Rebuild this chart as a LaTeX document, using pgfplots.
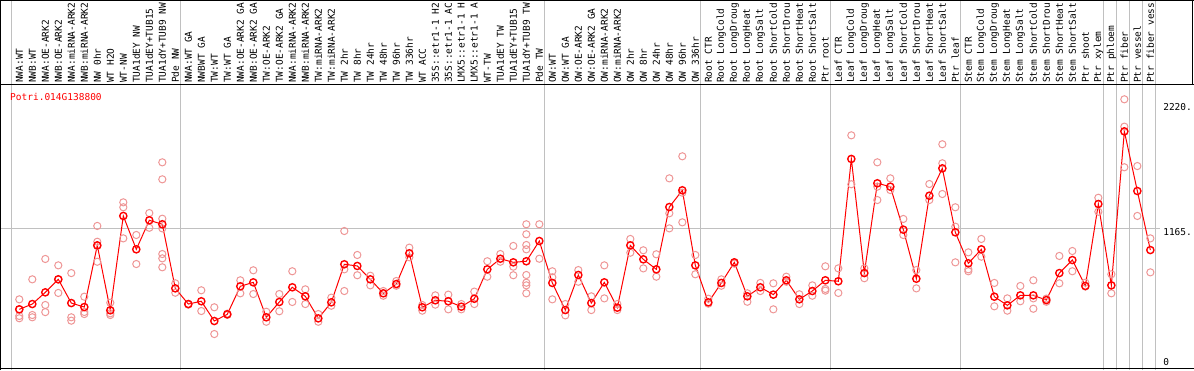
\documentclass[border=0pt]{standalone}
\usepackage{fontspec}
\setmonofont{DejaVu Sans Mono}
\usepackage{pgfplots}
\usepackage{pgfplotstable}
\pgfplotsset{compat=1.18}
\definecolor{rep}{RGB}{238,150,150}
\definecolor{gl}{RGB}{192,192,192}
\newcommand{\ft}{\ttfamily\fontsize{9.5}{10}\selectfont}
\newcommand{\lab}[2]{\node[rotate=90,anchor=west,inner sep=0pt,font=\ft] at (axis cs:#1,2369) {#2};}

\pgfplotstableread{
x y
1 491
2 535
3 632
4 740
5 543
6 510
7 1022
8 483
9 1266
10 989
11 1230
12 1197
13 665
14 535
15 558
16 394
17 450
18 682
19 715
20 425
21 552
22 674
23 599
24 416
25 549
26 865
27 851
28 740
29 624
30 701
31 956
32 508
33 566
34 558
35 513
36 579
37 823
38 911
39 881
40 890
41 1058
42 710
43 485
44 776
45 543
46 715
47 505
48 1022
49 906
50 823
51 1340
52 1479
53 856
54 549
55 710
56 881
57 599
58 674
59 613
60 732
61 574
62 643
63 732
64 724
65 1739
66 792
67 1537
68 1509
69 1152
70 745
71 1434
72 1661
73 1130
74 873
75 989
76 596
77 524
78 607
79 607
80 568
81 792
82 900
83 685
84 1365
85 690
86 1968
87 1473
88 983
}\means

\pgfplotstableread{
x y
1 574
1 436
1 417
1 491
2 740
2 444
2 425
3 909
3 527
3 468
4 856
4 627
4 740
5 792
5 425
5 397
6 596
6 469
6 452
7 1183
7 1052
7 1017
7 886
8 546
8 458
8 444
9 1379
9 1338
9 1080
10 1108
10 867
11 1290
11 1168
12 1711
12 1570
12 1243
12 1163
12 950
12 914
12 840
13 707
13 629
14 535
14 530
15 649
15 477
16 508
16 286
17 455
17 445
18 732
18 624
19 815
19 618
20 471
20 388
21 618
21 475
22 807
22 552
23 657
23 535
24 452
24 388
25 588
25 521
26 1141
26 823
26 643
27 942
27 774
28 770
28 690
29 643
29 604
30 726
30 687
31 1003
31 923
32 527
32 480
33 607
33 530
34 613
34 491
35 535
35 491
36 638
36 535
37 890
37 762
38 950
38 886
39 1017
39 845
39 774
40 1197
40 1114
40 1025
40 989
40 776
40 712
40 690
40 624
41 1197
41 911
42 807
42 757
42 574
43 535
43 441
44 817
44 720
45 599
45 485
46 856
46 582
47 535
47 485
48 1075
48 961
49 981
49 831
50 948
50 762
51 1578
51 1288
51 1163
52 1761
52 1459
52 1213
53 942
53 782
54 579
54 538
55 740
55 687
56 881
56 870
57 624
57 554
58 710
58 643
59 707
59 491
60 762
60 720
61 616
61 535
62 690
62 604
63 848
63 660
63 646
64 831
64 627
65 1935
65 1529
66 831
66 749
67 1711
67 1509
67 1398
68 1578
68 1481
69 1241
69 1108
70 817
70 665
71 1531
71 1398
72 1861
72 1703
72 1448
73 1338
73 1177
73 881
74 964
74 823
74 807
75 1075
75 928
76 710
76 516
77 582
77 480
78 685
78 558
79 732
79 582
79 496
80 554
80 580
81 934
81 707
82 975
82 807
83 712
83 680
84 1417
84 1301
85 782
85 624
86 2234
86 2007
86 1670
87 1680
87 1266
88 1080
88 798
}\reps

\begin{document}
\begin{tikzpicture}
\useasboundingbox (0,0) rectangle (1194pt,370pt);
\begin{axis}[
  at={(0,0)}, anchor=south west,
  scale only axis, width=1194pt, height=370pt,
  xmin=-0.4846, xmax=91.362, ymin=-12.4, ymax=3058,
  hide axis, clip=false,
]
% gray group lines
\pgfplotsinvokeforeach{0.385,13.385,41.385,53.385,63.385,73.385,84.385,85.385,86.385,87.385,88.385}{
  \draw[gl, line width=1pt] (axis cs:#1,-12.4) -- (axis cs:#1,3058);
}
\draw[gl, line width=1pt] (axis cs:-0.41,1165) -- (axis cs:88.75,1165);
% borders
\draw[black, line width=1pt] (axis cs:-0.408,-12.4) -- (axis cs:-0.408,3058);
\draw[black, line width=1pt] (axis cs:-0.4846,3054) -- (axis cs:91.362,3054);
\draw[black, line width=1pt] (axis cs:-0.4846,2352.7) -- (axis cs:91.362,2352.7);
\draw[black, line width=1pt] (axis cs:91.28,2352.7) -- (axis cs:91.28,3058);
\draw[black, line width=1.5pt] (axis cs:-0.4846,-1) -- (axis cs:91.362,-1);

% replicates
\addplot[only marks, mark=o, mark size=3.6pt, mark options={draw=rep, line width=1pt}] table[x=x,y=y] {\reps};
% means
\addplot[red, line width=1pt, mark=o, mark size=3.6pt, mark options={draw=red, line width=1.4pt}] table[x=x,y=y] {\means};

% title and y labels
\node[anchor=west, inner sep=0pt, font=\ft, text=red] at (axis cs:0.285,2253) {Potri.014G138800};
\node[anchor=west, inner sep=0pt, font=\ft] at (axis cs:88.98,2170) {2220.};
\node[anchor=west, inner sep=0pt, font=\ft] at (axis cs:88.98,1133) {1165.};
\node[anchor=west, inner sep=0pt, font=\ft] at (axis cs:88.98,54) {0};

% sample labels
\lab{1}{NWA:WT}
\lab{2}{NWB:WT}
\lab{3}{NWA:OE-ARK2}
\lab{4}{NWB:OE-ARK2}
\lab{5}{NWA:miRNA-ARK2}
\lab{6}{NWB:miRNA-ARK2}
\lab{7}{NW 0hr}
\lab{8}{WT H2O}
\lab{9}{WT-NW}
\lab{10}{TUA1dEY NW}
\lab{11}{TUA1dEY+TUB15}
\lab{12}{TUA1dY+TUB9 NW}
\lab{13}{Pde NW}
\lab{14}{NWA:WT GA}
\lab{15}{NWBWT GA}
\lab{16}{TW:WT}
\lab{17}{TW:WT GA}
\lab{18}{NWA:OE-ARK2 GA}
\lab{19}{NWB:OE-ARK2 GA}
\lab{20}{TW:OE-ARK2}
\lab{21}{TW:OE-ARK2 GA}
\lab{22}{NWA:miRNA-ARK2}
\lab{23}{NWB:miRNA-ARK2}
\lab{24}{TW:miRNA-ARK2}
\lab{25}{TW:miRNA-ARK2}
\lab{26}{TW 2hr}
\lab{27}{TW 8hr}
\lab{28}{TW 24hr}
\lab{29}{TW 48hr}
\lab{30}{TW 96hr}
\lab{31}{TW 336hr}
\lab{32}{WT ACC}
\lab{33}{35S::etr1-1 H2}
\lab{34}{35S::etr1-1 AC}
\lab{35}{LMX5::etr1-1 H}
\lab{36}{LMX5::etr1-1 A}
\lab{37}{WT-TW}
\lab{38}{TUA1dEY TW}
\lab{39}{TUA1dEY+TUB15}
\lab{40}{TUA1dY+TUB9 TW}
\lab{41}{Pde TW}
\lab{42}{OW:WT}
\lab{43}{OW:WT GA}
\lab{44}{OW:OE-ARK2}
\lab{45}{OW:OE-ARK2 GA}
\lab{46}{OW:miRNA-ARK2}
\lab{47}{OW:miRNA-ARK2}
\lab{48}{OW 2hr}
\lab{49}{OW 8hr}
\lab{50}{OW 24hr}
\lab{51}{OW 48hr}
\lab{52}{OW 96hr}
\lab{53}{OW 336hr}
\lab{54}{Root CTR}
\lab{55}{Root LongCold}
\lab{56}{Root LongDroug}
\lab{57}{Root LongHeat}
\lab{58}{Root LongSalt}
\lab{59}{Root ShortCold}
\lab{60}{Root ShortDrou}
\lab{61}{Root ShortHeat}
\lab{62}{Root ShortSalt}
\lab{63}{Ptr root}
\lab{64}{Leaf CTR}
\lab{65}{Leaf LongCold}
\lab{66}{Leaf LongDroug}
\lab{67}{Leaf LongHeat}
\lab{68}{Leaf LongSalt}
\lab{69}{Leaf ShortCold}
\lab{70}{Leaf ShortDrou}
\lab{71}{Leaf ShortHeat}
\lab{72}{Leaf ShortSalt}
\lab{73}{Ptr leaf}
\lab{74}{Stem CTR}
\lab{75}{Stem LongCold}
\lab{76}{Stem LongDroug}
\lab{77}{Stem LongHeat}
\lab{78}{Stem LongSalt}
\lab{79}{Stem ShortCold}
\lab{80}{Stem ShortDrou}
\lab{81}{Stem ShortHeat}
\lab{82}{Stem ShortSalt}
\lab{83}{Ptr shoot}
\lab{84}{Ptr xylem}
\lab{85}{Ptr phloem}
\lab{86}{Ptr fiber}
\lab{87}{Ptr vessel}
\lab{88}{Ptr fiber vess}
\end{axis}
\end{tikzpicture}
\end{document}
